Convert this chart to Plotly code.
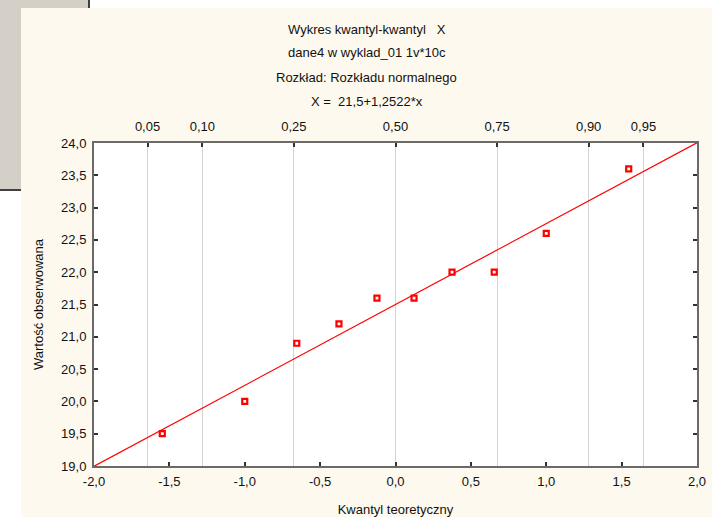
import plotly.graph_objects as go
from statistics import NormalDist

# ---------------- data ----------------
theoretical_quantiles = [-1.547, -1.000, -0.655, -0.375, -0.123, 0.123, 0.375, 0.655, 1.000, 1.547]
observed_values = [19.5, 20.0, 20.9, 21.2, 21.6, 21.6, 22.0, 22.0, 22.6, 23.6]
fit_intercept = 21.5
fit_slope = 1.2522
x_tick_values = [-2.0, -1.5, -1.0, -0.5, 0.0, 0.5, 1.0, 1.5, 2.0]
y_tick_values = [19.0, 19.5, 20.0, 20.5, 21.0, 21.5, 22.0, 22.5, 23.0, 23.5, 24.0]
prob_tick_values = [0.05, 0.10, 0.25, 0.50, 0.75, 0.90, 0.95]
title_lines = [
    "Wykres kwantyl-kwantyl   X",
    "dane4 w wyklad_01 1v*10c",
    "Rozkład: Rozkładu normalnego",
    "X =  21,5+1,2522*x",
]
x_title = "Kwantyl teoretyczny"
y_title = "Wartość obserwowana"


def fmt(v, d):
    return f"{v:.{d}f}".replace(".", ",")


# ---------------- geometry (pixels) ----------------
W, H = 717, 517
L, R, T, B = 94, 697, 143, 466


def px(xp):
    return (xp - L) / (R - L)


def py(yp):
    return (B - yp) / (B - T)


FONT = "Liberation Sans, Arial, sans-serif"
FS = 13
CREAM = "#fdf9ef"
AXC = "#6a6a6a"
TXT = "#111111"

line_x = [x_tick_values[0], x_tick_values[-1]]
line_y = [fit_intercept + fit_slope * v for v in line_x]

fig = go.Figure()
fig.add_trace(go.Scatter(
    x=line_x, y=line_y, mode="lines",
    line=dict(color="#ff0000", width=1.2), hoverinfo="skip", showlegend=False))
fig.add_trace(go.Scatter(
    x=theoretical_quantiles, y=observed_values, mode="markers",
    marker=dict(symbol="square", size=5, color="white",
                line=dict(color="#ff0000", width=2.2)),
    showlegend=False))
# invisible trace to anchor top probability axis
fig.add_trace(go.Scatter(
    x=line_x, y=[y_tick_values[0]] * 2, xaxis="x2", mode="markers",
    marker=dict(opacity=0, size=1), hoverinfo="skip", showlegend=False))

prob_positions = [NormalDist().inv_cdf(p) for p in prob_tick_values]

tf = dict(family=FONT, size=FS, color=TXT)

fig.update_layout(
    width=W, height=H,
    margin=dict(l=L, r=W - R, t=T, b=H - B, pad=0, autoexpand=False),
    paper_bgcolor=CREAM, plot_bgcolor="white",
    font=tf,
    xaxis=dict(
        range=[x_tick_values[0], x_tick_values[-1]],
        tickvals=x_tick_values, ticktext=[fmt(v, 1) for v in x_tick_values],
        ticks="inside", ticklen=4, tickwidth=1.5, tickcolor="#333333",
        ticklabelstandoff=2, automargin=False,
        showline=True, linecolor=AXC, linewidth=2, mirror=False,
        showgrid=False, zeroline=False,
        tickfont=tf,
        title=dict(text=x_title, font=tf, standoff=17),
    ),
    xaxis2=dict(
        overlaying="x", side="top", anchor="y",
        range=[x_tick_values[0], x_tick_values[-1]],
        tickvals=prob_positions, ticktext=[fmt(v, 2) for v in prob_tick_values],
        ticks="inside", ticklen=4, tickwidth=1.5, tickcolor="#333333",
        ticklabelstandoff=5, automargin=False,
        showline=True, linecolor=AXC, linewidth=2,
        showgrid=True, gridcolor="#d4d4d4", gridwidth=1, zeroline=False,
        tickfont=tf,
    ),
    yaxis=dict(
        range=[y_tick_values[0], y_tick_values[-1]],
        tickvals=y_tick_values, ticktext=[fmt(v, 1) for v in y_tick_values],
        ticks="inside", ticklen=4, tickwidth=1.5, tickcolor="#333333",
        ticklabelstandoff=3, automargin=False,
        showline=True, linecolor=AXC, linewidth=2, mirror="ticks",
        showgrid=False, zeroline=False,
        tickfont=tf,
        title=dict(text=y_title, font=tf, standoff=15),
    ),
)

# title lines
title_y = [30, 53, 77, 101]
for txt, yy in zip(title_lines, title_y):
    fig.add_annotation(
        text=txt, xref="paper", yref="paper", x=px(366.5), y=py(yy),
        xanchor="center", yanchor="middle", showarrow=False, font=tf)

# surrounding decoration: white margins and the grey window fragment
shapes = [
    dict(type="rect", x0=px(0), x1=px(W), y0=py(0), y1=py(8)),
    dict(type="rect", x0=px(0), x1=px(21), y0=py(0), y1=py(H)),
    dict(type="rect", x0=px(712), x1=px(W), y0=py(0), y1=py(H)),
]
for s in shapes:
    s.update(xref="paper", yref="paper", fillcolor="white", line=dict(width=0), layer="below")
    fig.add_shape(**s)

grey = [
    dict(x0=px(0), x1=px(88), y0=py(0), y1=py(8)),
    dict(x0=px(0), x1=px(21), y0=py(0), y1=py(189)),
]
for g in grey:
    fig.add_shape(type="rect", xref="paper", yref="paper", fillcolor="#d4d0c8",
                  line=dict(width=0), layer="below", **g)
fig.add_shape(type="line", xref="paper", yref="paper", x0=px(89), x1=px(89),
              y0=py(0), y1=py(8), line=dict(color="#404040", width=2))
fig.add_shape(type="line", xref="paper", yref="paper", x0=px(0), x1=px(21),
              y0=py(190), y1=py(190), line=dict(color="#404040", width=2))

fig.write_html("out.html", config={"displayModeBar": False},
               post_script="document.body.style.margin='0';")
